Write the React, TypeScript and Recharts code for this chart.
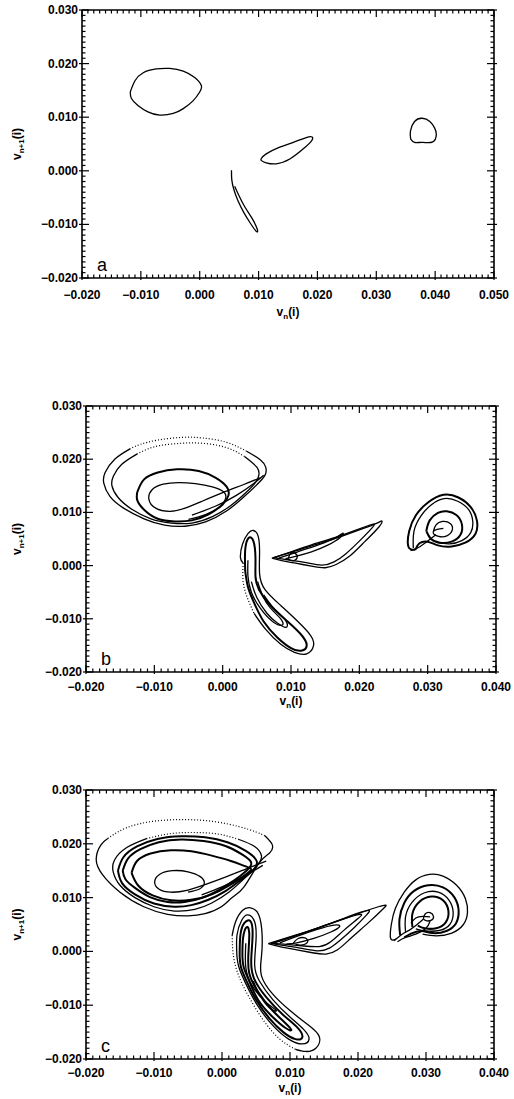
import React from 'react'
import { ScatterChart, Scatter, XAxis, YAxis } from 'recharts'

type Pair = [number, number]

// all curve values in units of 1e-3  ->  [v_n, v_n+1]

// ---- panel a ----
const aLeftLoop: Pair[] = [
  [-11.8, 14.7], [-11.0, 16.8], [-9.6, 18.3], [-7.4, 19.0], [-5.1, 19.1], [-2.8, 18.6],
  [-0.85, 17.4], [0.28, 15.9], [0.0, 14.7], [-1.1, 13.1], [-2.8, 11.6], [-4.5, 10.7],
  [-6.8, 10.4], [-8.8, 11.0], [-10.5, 12.2], [-11.6, 13.5], [-11.8, 14.7],
]
const aLens: Pair[] = [
  [10.4, 2.2], [11.3, 3.15], [13.6, 4.4], [15.9, 5.3], [18.1, 6.2], [19.1, 6.3], [19.0, 5.6],
  [17.6, 4.1], [15.3, 2.2], [13.0, 1.3], [11.3, 1.5], [10.5, 1.9], [10.4, 2.2],
]
const aHook: Pair[] = [
  [5.4, 0.1], [5.45, -1.7], [5.8, -3.5], [6.5, -5.6], [7.5, -7.8], [8.5, -9.6], [9.6, -11.3],
  [9.75, -10.8], [8.8, -8.7], [7.65, -6.7], [6.7, -4.7], [5.95, -2.9],
]
const aRightLoop: Pair[] = [
  [35.85, 5.9], [35.8, 7.4], [36.5, 9.2], [37.8, 9.8], [39.1, 9.2], [39.9, 8.0], [40.2, 6.8],
  [39.6, 5.4], [37.9, 5.3], [36.5, 5.3], [35.85, 5.9],
]

// ---- panel b ----
const bOuter1: Pair[] = [
  [-13.5, 22.0], [-15.8, 20.0], [-17.2, 17.5], [-17.4, 15.5], [-16.5, 13.0], [-14.5, 10.8],
  [-11.5, 8.8], [-8.5, 7.6], [-5.5, 7.4], [-2.5, 8.2], [0.5, 10.2], [3.0, 12.8], [5.0, 15.2],
  [6.2, 17.0], [6.3, 18.5], [5.5, 19.9], [3.5, 21.5],
]
const bOuter1Top: Pair[] = [[3.5, 21.5], [0.5, 23.2], [-3, 24.0], [-6, 24.1], [-9.5, 23.6], [-12, 22.8], [-13.5, 22.0]]
const bOuter2: Pair[] = [
  [-12.5, 21.0], [-14.8, 19.0], [-16.0, 16.8], [-16.2, 15.0], [-15.3, 12.8], [-13.3, 10.6],
  [-10.5, 8.8], [-7.5, 8.0], [-4.5, 8.0], [-1.5, 9.2], [1.2, 11.3], [3.3, 13.6], [4.8, 15.6],
  [5.3, 17.0], [5.0, 18.5], [3.2, 20.5],
]
const bOuter2Top: Pair[] = [[3.2, 20.5], [0.5, 22.2], [-3, 23.0], [-6, 23.0], [-9, 22.6], [-11, 21.9], [-12.5, 21.0]]
const bMidLoop: Pair[] = [
  [-12.5, 13.8], [-11.5, 16.2], [-9.5, 17.5], [-6.7, 18.1], [-3.5, 17.8], [-1, 16.5], [0.6, 14.8],
  [0.85, 13.2], [0, 11.5], [-2, 9.7], [-4.5, 8.5], [-7, 8.3], [-9.5, 8.8], [-11.5, 10.5],
  [-12.5, 12.3], [-12.5, 13.8],
]
const bInnerLoop: Pair[] = [
  [5.5, 16.5], [3, 15.2], [0, 13.7], [-3, 12.1], [-5.5, 10.8], [-7.7, 10.2], [-9.8, 10.8],
  [-10.8, 12.5], [-10.3, 14.3], [-8.7, 15.3], [-6.5, 15.6], [-4, 15.4], [-1.5, 14.8], [0.2, 13.8],
  [0.4, 12.5], [-0.5, 11.0], [-2.5, 9.6], [-5, 8.7],
]
const bDiagonal: Pair[] = [[-4.5, 9.5], [-1, 11.2], [2, 13.2], [4.5, 15.4], [6, 17]]
const bHookOuter: Pair[] = [
  [4.6, -9], [6.3, -12], [8.5, -14.8], [10.5, -16.3], [12.3, -16.6], [13.3, -15], [12.8, -13],
  [11, -10.5], [8.5, -7.5], [6.2, -4.5], [5.4, -1.5], [5.4, 2.5], [5.2, 5.5], [4.5, 6.6],
  [3.7, 6.0], [2.9, 4.0], [2.6, 1.5], [3.0, 0.5],
]
const bHookEdge: Pair[] = [[3.0, 0.5], [3.0, -3], [3.6, -6], [4.6, -9]]
const bHookLoop: Pair[] = [
  [3.3, -1], [3.3, 3], [3.8, 5.2], [4.5, 4.6], [4.8, 1.5], [4.8, -2], [5.3, -4.5], [7, -7.5],
  [9.5, -10.5], [11.5, -13], [12.3, -15], [11.5, -16], [10, -15.5], [8, -13.5], [6, -10.5],
  [4.6, -7], [3.7, -4], [3.3, -1],
]
const bHookIn1: Pair[] = [
  [3.7, 1.0], [3.7, -2], [4.2, -5], [5.5, -8], [7.3, -10.5], [8.7, -11.2], [8.5, -10], [7, -8],
  [5.8, -5.5], [5.1, -3],
]
const bHookIn2: Pair[] = [[4.2, -3], [5, -6], [6.5, -9], [8, -10.8], [9.3, -11.6], [9.2, -10.3], [7.6, -8.2], [6, -5.5]]
const bLensOuter: Pair[] = [
  [7.2, 1.4], [10, 2.5], [13, 3.7], [16.5, 5.1], [20, 6.7], [22.6, 8.0], [23.3, 8.4], [22.9, 7.3],
  [20.8, 4.5], [18.6, 1.8], [16.6, 0.2], [15, -0.4], [13, -0.1], [10.5, 0.5], [8.5, 1.0], [7.2, 1.4],
]
const bLens2: Pair[] = [
  [7.5, 1.5], [10, 2.6], [13, 3.9], [16.5, 5.3], [19.8, 6.8], [22, 7.8], [21.8, 7.0], [20, 4.6],
  [18, 2.2], [16.3, 0.7], [14.5, 0.1], [12, 0.6], [9.5, 1.1], [7.5, 1.5],
]
const bLensIn: Pair[] = [
  [8.2, 1.4], [11, 2.6], [14, 3.9], [16.5, 5.2], [17.6, 6.1], [17.2, 5.3], [15.3, 3.8], [13, 2.6],
  [10.8, 1.8], [9.2, 1.3],
]
const bLensTiny: Pair[] = [[9.6, 1.2], [9.9, 2.2], [10.6, 2.3], [10.9, 1.5], [10.3, 0.9], [9.6, 1.2]]
const bSnail1: Pair[] = [
  [28.2, 3.0], [27.2, 3.5], [27.3, 6.5], [28.3, 9.5], [30, 11.8], [32.3, 13.3], [34.5, 12.8],
  [36.3, 11], [37.2, 8.5], [37, 6.0], [35.5, 4.3], [33.5, 3.6], [31.5, 3.8], [30, 4.5], [28.8, 4.2],
  [28.2, 3.0],
]
const bSnail2: Pair[] = [
  [27.9, 3.3], [28.0, 6.5], [29, 9.3], [30.5, 11.4], [32.4, 12.6], [34.4, 12.1], [36, 10.5],
  [36.6, 8.3], [36.3, 6.2], [35, 4.7], [33.2, 4.1], [31.5, 4.3],
]
const bSnailTail: Pair[] = [[27.5, 2.8], [28.8, 3.5], [30.2, 4.8], [31.2, 5.8]]
const bSnailMid: Pair[] = [
  [29.8, 6.5], [30.3, 8.5], [31.5, 9.9], [32.8, 10.2], [34.2, 9.5], [35, 7.8], [34.8, 5.8],
  [33.5, 4.5], [31.8, 4.3], [30.5, 5], [29.8, 6.5],
]
const bSnailCore: Pair[] = [
  [30.8, 6.2], [31.2, 7.6], [32.2, 8.3], [33.3, 7.9], [33.6, 6.7], [32.8, 5.6], [31.6, 5.5],
  [30.8, 6.2], [31.4, 6.8], [32.3, 7.0],
]

// ---- panel c ----
const cOuter: Pair[] = [
  [6.3, 21.5], [7.4, 19.8], [7.0, 18.3], [5.5, 16.5], [3.3, 12.1], [1.5, 10.0], [-0.1, 8.3],
  [-2.5, 7.0], [-5.0, 6.6], [-8, 6.9], [-11.5, 8.3], [-15, 11], [-17.6, 14.3], [-18.5, 17.2],
  [-17.8, 19.8], [-16.8, 21.0],
]
const cOuterTop: Pair[] = [[-16.8, 21.0], [-14, 23.0], [-10, 24.2], [-5.2, 24.5], [-1, 24.1], [2.5, 23.2], [5, 22.2], [6.3, 21.5]]
const cBand1: Pair[] = [
  [-11, 21], [-14, 19.3], [-15.8, 17], [-16, 14.8], [-15, 12.3], [-12.8, 10], [-10, 8.3], [-7, 7.5],
  [-4, 7.8], [-1.5, 9], [1, 11], [3.5, 13.8], [5.3, 16.2], [5.8, 17.8], [4.8, 19.5], [2.5, 20.8],
]
const cBand1Top: Pair[] = [[2.5, 20.8], [-0.5, 21.8], [-4, 22.1], [-7.5, 21.9], [-11, 21]]
const cBand2: Pair[] = [
  [-15.3, 15], [-14.5, 17.5], [-12.5, 19.5], [-9.5, 20.9], [-6, 21.4], [-2.5, 21.2], [0.8, 20.3],
  [3.5, 18.7], [5.1, 16.8], [4.5, 15], [2.8, 13.3], [0.5, 11.2], [-2, 9.6], [-4.5, 8.6], [-7, 8.3],
  [-10, 8.9], [-12.8, 10.6], [-14.7, 12.7], [-15.3, 15],
]
const cBand3: Pair[] = [
  [-14.6, 15], [-13.8, 17.3], [-12, 19], [-9.3, 20.3], [-6, 20.8], [-2.7, 20.5], [0.5, 19.6],
  [3, 18], [4.3, 16.5], [3.6, 15], [1.8, 13.2], [-0.5, 11.4], [-3, 9.9], [-5.5, 9.2], [-8, 9.2],
  [-10.6, 10.1], [-12.8, 11.8], [-14.2, 13.4], [-14.6, 15],
]
const cMidLoop: Pair[] = [
  [-13.3, 14.6], [-12.5, 16.8], [-10.5, 18.2], [-7.5, 18.8], [-4.5, 18.6], [-1.5, 17.8], [1.3, 16.8],
  [3.5, 15.8], [4.3, 15.2], [3.2, 14], [1, 12.2], [-1.5, 10.6], [-4.5, 9.6], [-7.5, 9.5],
  [-10.2, 10.4], [-12.3, 12.2], [-13.3, 14.6],
]
const cInnerLoop: Pair[] = [
  [6.5, 16.8], [3.5, 15.3], [0.5, 13.8], [-2.5, 12.4], [-5, 11.4], [-7.5, 11.0], [-9.3, 11.6],
  [-9.9, 12.9], [-9.2, 14.3], [-7.3, 15.0], [-5, 14.8], [-3.2, 13.9], [-2.6, 12.7], [-3.3, 11.6],
  [-5, 11.0],
]
const cDiagonal: Pair[] = [[-3, 10.5], [0, 12.0], [3, 13.8], [6, 16]]
const cHookOuter: Pair[] = [
  [1.5, 3], [2.0, 5.5], [3.0, 7.6], [4.2, 8.1], [5.4, 6.8], [5.9, 3], [5.8, -1], [5.8, -4.5],
  [7.5, -8], [10, -11], [12.5, -13.5], [14.3, -15.8], [13.8, -18], [12.3, -18.6], [10.8, -18.2],
]
const cHookEdge: Pair[] = [[10.8, -18.2], [8.5, -16.3], [6.2, -13], [4.2, -9], [2.6, -5], [1.7, -1], [1.5, 3]]
const cHookLoop2: Pair[] = [
  [2.2, -1], [2.2, 3], [2.9, 5.8], [3.8, 6.8], [4.8, 5.5], [5.0, 2], [4.8, -2.5], [5.5, -5.5],
  [7.5, -9], [10, -12.2], [12, -14.5], [12.8, -16.3], [11.8, -17.2], [9.8, -16.3], [7.5, -13.8],
  [5.2, -10], [3.5, -6], [2.5, -3], [2.2, -1],
]
const cHookLoop3: Pair[] = [
  [2.6, -1], [2.7, 3], [3.3, 5.3], [4.2, 5.6], [4.5, 3], [4.3, -1.5], [4.7, -5], [6.5, -8.5],
  [9, -11.8], [11.2, -14.3], [11.8, -16], [10.8, -16.3], [9, -15], [7, -12.5], [5, -9], [3.6, -5.5],
  [2.8, -3], [2.6, -1],
]
const cHookLoop4: Pair[] = [
  [3.0, -1], [3.1, 2.5], [3.6, 4.5], [4.0, 3.5], [3.9, 0], [4.0, -4], [5.3, -7.5], [7.3, -10.8],
  [9.3, -13.3], [10.2, -14.6], [9.3, -14.2], [7.3, -12.0], [5.3, -9], [4, -5.5], [3.2, -3], [3.0, -1],
]
const cHookIn: Pair[] = [[3.5, 1.5], [3.5, -3], [4.5, -6.5], [6.5, -9.5], [8, -11], [7, -10.5], [5.5, -8.0], [4.6, -5.5]]
const cLensOuter: Pair[] = [
  [6.8, 1.45], [9.5, 2.5], [13, 3.9], [16.5, 5.4], [20, 7], [23, 8.3], [24.1, 8.6], [23.6, 7.8],
  [21.5, 5.3], [19, 2.5], [17, 0.3], [15.3, -0.5], [13.5, -0.3], [11, 0.3], [8.5, 0.9], [6.8, 1.45],
]
const cLens2: Pair[] = [
  [7.2, 1.5], [10, 2.6], [13.5, 4.1], [17, 5.7], [20, 7.1], [21.6, 7.6], [21.2, 6.7], [19.5, 4.5],
  [17.5, 2.2], [15.8, 0.6], [14, 0.1], [11.5, 0.6], [9, 1.1], [7.2, 1.5],
]
const cLens3: Pair[] = [
  [7.5, 1.5], [10.5, 2.8], [14, 4.3], [17.5, 5.9], [20.3, 6.9], [20, 6.1], [18, 4], [16, 1.8],
  [14.3, 0.9], [12, 1.0], [9.5, 1.3], [7.5, 1.5],
]
const cLensIn: Pair[] = [[8.5, 1.6], [11, 2.8], [14, 4.1], [16.5, 4.9], [17.3, 4.6], [16, 3.6], [13.5, 2.4], [11, 1.6], [9.5, 1.4]]
const cLensTiny: Pair[] = [[10.5, 1.6], [11.2, 2.4], [12.2, 2.5], [12.6, 1.8], [11.8, 1.2], [10.8, 1.3]]
const cSnail1: Pair[] = [
  [25.6, 2.3], [24.8, 2.4], [24.9, 5], [25.5, 8], [26.8, 11], [28.5, 13.3], [30.5, 14.3], [32.5, 14.0],
  [34.5, 12.3], [35.8, 9.8], [36.1, 7.2], [35.5, 5.0], [33.8, 3.4], [31.5, 2.9], [29.5, 3.2],
]
const cSnail2: Pair[] = [
  [26.2, 3], [26.1, 6], [26.8, 9], [28.2, 11.2], [30.3, 12.3], [32.5, 11.9], [34.2, 10], [34.8, 7.5],
  [34.4, 5.2], [33, 3.8], [31, 3.4], [29.3, 3.8], [27.8, 3.3], [26.8, 2.6],
]
const cSnail3: Pair[] = [
  [27, 3.5], [27, 6.5], [28, 9.2], [29.8, 10.9], [31.8, 11.0], [33.4, 9.5], [34.0, 7.2], [33.5, 5.0],
  [32, 3.9], [30, 3.8], [28.5, 4.2],
]
const cSnail4: Pair[] = [
  [28, 4.5], [28, 7], [29, 9.2], [30.8, 10.2], [32.5, 9.5], [33.3, 7.5], [32.9, 5.4], [31.5, 4.3],
  [29.8, 4.3], [28.8, 4.8],
]
const cSnailCore: Pair[] = [[29.6, 6.1], [29.9, 7.0], [30.6, 7.2], [31.1, 6.5], [30.8, 5.8], [30.0, 5.7], [29.6, 6.1]]
const cSnailTail1: Pair[] = [[25.3, 2.0], [26.5, 3.2], [27.5, 3.9], [28.5, 4.8], [29.6, 6.0]]
const cSnailTail2: Pair[] = [[25.8, 1.8], [27, 2.6], [28.5, 3.2], [30, 4.3], [30.6, 5.6]]
const cSnailBar: Pair[] = [[27.8, 5.2], [28.5, 6.2], [29.5, 6.5], [30.6, 6.4]]

// axis ticks (thousandths); labelled every 10
const xTicksA = Array.from({ length: 71 }, (_, i) => (i - 20) / 1000)
const xTicksBC = Array.from({ length: 61 }, (_, i) => (i - 20) / 1000)
const yTicks = Array.from({ length: 51 }, (_, i) => (i - 20) / 1000)

const pts = (p: Pair[]) => p.map(([x, y]) => ({ x: x / 1000, y: y / 1000 }))

const FONT = '"Liberation Sans", Arial, Helvetica, sans-serif'
const fmt = (v: number) => (v < -1e-9 ? '\u2212' : '') + Math.abs(v).toFixed(3)
const isMajor = (v: number) => Math.round(v * 1000) % 10 === 0

function BottomTick({ x, y, payload, gap }: any) {
  const major = isMajor(payload.value)
  return (
    <g>
      <line x1={x} x2={x} y1={y + (major ? 2 : 0)} y2={y - (major ? 7 : 3.5)} stroke="#000" strokeWidth={1.2} />
      {major && (
        <text x={x} y={y + gap + 4} textAnchor="middle" fontSize={12} fontWeight="bold" fontFamily={FONT} fill="#000">
          {fmt(payload.value)}
        </text>
      )}
    </g>
  )
}

function TopTick({ x, y, payload }: any) {
  const major = isMajor(payload.value)
  return <line x1={x} x2={x} y1={y} y2={y + (major ? 7 : 3.5)} stroke="#000" strokeWidth={1.2} />
}

function LeftTick({ x, y, payload }: any) {
  const major = isMajor(payload.value)
  return (
    <g>
      <line x1={x - (major ? 3 : 0)} x2={x + (major ? 7 : 3.5)} y1={y} y2={y} stroke="#000" strokeWidth={1.2} />
      {major && (
        <text x={x - 4} y={y + 4} textAnchor="end" fontSize={12} fontWeight="bold" fontFamily={FONT} fill="#000">
          {fmt(payload.value)}
        </text>
      )}
    </g>
  )
}

function RightTick({ x, y, payload }: any) {
  const major = isMajor(payload.value)
  return <line x1={x + (major ? 3 : 0)} x2={x - (major ? 7 : 3.5)} y1={y} y2={y} stroke="#000" strokeWidth={1.2} />
}

interface PanelProps {
  top: number
  height: number
  marginTop: number
  marginRight: number
  yWidth: number
  xHeight: number
  xMax: number
  xTicks: number[]
  letter: string
  tickGap: number
  titleGap: number
  thin: Pair[][]
  heavy: Pair[][]
  dotted: Pair[][]
}

const frame = { stroke: '#000', strokeWidth: 1.6 }
const noDot = () => <g />

function Panel(p: PanelProps) {
  const xDomain = [-0.02, p.xMax]
  const yDomain = [-0.02, 0.03]
  const series = [
    ...p.heavy.map((c) => ({ c, line: { stroke: '#000', strokeWidth: 2 } })),
    ...p.thin.map((c) => ({ c, line: { stroke: '#000', strokeWidth: 1.3 } })),
    ...p.dotted.map((c) => ({ c, line: { stroke: '#000', strokeWidth: 1.2, strokeDasharray: '1 2' } })),
  ]
  return (
    <div style={{ position: 'absolute', left: 0, top: p.top }}>
      <ScatterChart
        width={514}
        height={p.height}
        margin={{ top: p.marginTop - 1, right: p.marginRight - 1, bottom: 0, left: 0 }}
      >
        {/* top / right frame axes: 1px thick so that they get drawn */}
        <XAxis
          xAxisId="t" orientation="top" type="number" dataKey="x" domain={xDomain} ticks={p.xTicks}
          interval={0} height={1} tickSize={0} tickMargin={0} tick={TopTick} axisLine={frame} allowDataOverflow
        />
        <YAxis
          yAxisId="r" orientation="right" type="number" dataKey="y" domain={yDomain} ticks={yTicks}
          interval={0} width={1} tickSize={0} tickMargin={0} tick={RightTick} axisLine={frame} allowDataOverflow
        />
        <XAxis
          xAxisId="b" orientation="bottom" type="number" dataKey="x" domain={xDomain} ticks={p.xTicks}
          interval={0} height={p.xHeight} tickSize={0} tickMargin={0} axisLine={frame} allowDataOverflow
          tick={(t: any) => <BottomTick {...t} gap={p.tickGap} />}
          label={(l: any) => {
            const vb = l.viewBox
            return (
              <g fontFamily={FONT} fill="#000">
                <text x={vb.x + vb.width / 2} y={vb.y + p.titleGap + 4} textAnchor="middle" fontSize={12} fontWeight="bold">
                  v<tspan dy={3} fontSize={8}>n</tspan><tspan dy={-3}>(i)</tspan>
                </text>
                <text x={vb.x + 15} y={vb.y - 7} fontSize={18}>{p.letter}</text>
              </g>
            )
          }}
        />
        <YAxis
          yAxisId="l" orientation="left" type="number" dataKey="y" domain={yDomain} ticks={yTicks}
          interval={0} width={p.yWidth} tickSize={0} tickMargin={0} tick={LeftTick} axisLine={frame} allowDataOverflow
          label={(l: any) => {
            const vb = l.viewBox
            const cx = 21
            const cy = vb.y + vb.height / 2
            return (
              <text x={cx} y={cy} transform={`rotate(-90 ${cx} ${cy})`} textAnchor="middle" fontSize={12}
                fontWeight="bold" fontFamily={FONT} fill="#000">
                v<tspan dy={3} fontSize={8}>n+1</tspan><tspan dy={-3}>(i)</tspan>
              </text>
            )
          }}
        />
        {/* invisible series so the top / right frame axes are in use */}
        <Scatter xAxisId="t" yAxisId="r" data={pts(p.thin[0])} shape={noDot} isAnimationActive={false} />
        {series.map((s, i) => (
          <Scatter
            key={i}
            xAxisId="b"
            yAxisId="l"
            data={pts(s.c)}
            line={s.line}
            lineType="joint"
            lineJointType="natural"
            shape={noDot}
            isAnimationActive={false}
          />
        ))}
      </ScatterChart>
    </div>
  )
}

export default function App() {
  return (
    <div style={{ position: 'absolute', left: 0, top: 0, width: 514, height: 1099, background: '#fff' }}>
      <Panel
        top={0} height={330} marginTop={10} marginRight={20} yWidth={82} xHeight={52} xMax={0.05}
        xTicks={xTicksA} letter="a" tickGap={17} titleGap={34}
        thin={[aLeftLoop, aLens, aHook, aRightLoop]} heavy={[]} dotted={[]}
      />
      <Panel
        top={340} height={380} marginTop={66} marginRight={18} yWidth={86} xHeight={48} xMax={0.04}
        xTicks={xTicksBC} letter="b" tickGap={15} titleGap={29}
        thin={[bOuter1, bOuter2, bInnerLoop, bDiagonal, bHookOuter, bHookIn1, bHookIn2, bLensOuter, bLens2,
          bLensIn, bLensTiny, bSnail2, bSnailTail, bSnailCore]}
        heavy={[bMidLoop, bHookLoop, bSnail1, bSnailMid]}
        dotted={[bOuter1Top, bOuter2Top, bHookEdge]}
      />
      <Panel
        top={720} height={379} marginTop={70} marginRight={20} yWidth={86} xHeight={40} xMax={0.04}
        xTicks={xTicksBC} letter="c" tickGap={14} titleGap={29}
        thin={[cOuter, cBand1, cInnerLoop, cDiagonal, cHookOuter, cHookLoop2, cHookIn, cLensOuter, cLens2,
          cLens3, cLensIn, cLensTiny, cSnail1, cSnail3, cSnailCore, cSnailTail1, cSnailTail2, cSnailBar]}
        heavy={[cBand2, cBand3, cMidLoop, cHookLoop3, cHookLoop4, cSnail2, cSnail4]}
        dotted={[cOuterTop, cBand1Top, cHookEdge]}
      />
    </div>
  )
}
